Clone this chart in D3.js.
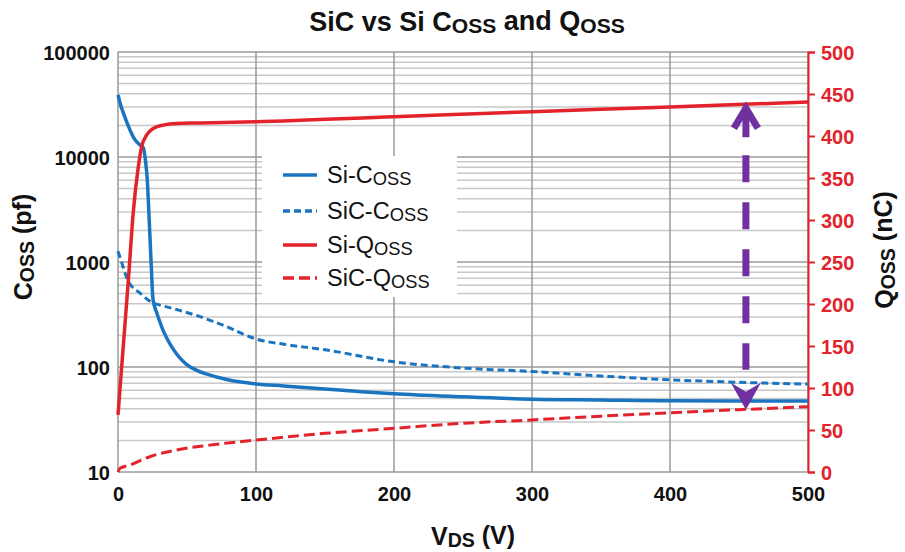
<!DOCTYPE html>
<meta charset="utf-8">
<style>
body { margin: 0; background: #fff; }
svg text { font-family: "Liberation Sans", Arial, sans-serif; }
.tick-l { font-size: 20px; font-weight: bold; fill: #111; }
.tick-r { font-size: 20px; font-weight: bold; fill: #e3232b; }
</style>
<svg id="chart" width="905" height="552"></svg>
<script src="https://cdn.jsdelivr.net/npm/d3@7"></script>
<script>

// values
var siCossV   = [0, 2, 4, 7.5, 12, 16, 18.3, 20, 21.2, 22.6, 24.3, 25.3, 28, 30.3, 32.5, 35.2, 40, 44.8, 49.6, 57, 65, 78.8, 100, 120, 140, 170, 200, 250, 300, 350, 400, 450, 500];
var siCoss    = [39000, 31000, 26000, 19700, 14800, 13000, 12300, 9000, 6100, 2540, 800, 450, 330, 270, 226, 190, 148, 122, 106, 93, 85, 76, 69, 66, 63, 59, 55.5, 52, 49.4, 48.5, 47.6, 47.5, 47.5];

var sicCossV  = [0, 2.7, 5, 7.5, 15.9, 25, 30, 40, 50, 60, 70, 80, 90, 100, 120, 150, 200, 250, 300, 350, 400, 450, 500];
var sicCoss   = [1265, 986, 792, 655, 507, 410, 390, 360, 330, 300, 268, 238, 208, 185, 165, 146, 112, 97.7, 90.6, 82, 75.5, 71.5, 68.7];

var siQossV   = [0, 7.5, 11, 14.7, 17.1, 20.7, 25.5, 32.7, 42.4, 60, 100, 200, 300, 400, 500];
var siQoss    = [68, 228, 308, 363, 387, 401, 409, 413, 415, 415.5, 417, 423, 429, 434.5, 440.5];

var sicQossV  = [0, 1.5, 8.7, 23, 42.4, 66.5, 100, 150, 200, 250, 300, 350, 400, 450, 500];
var sicQoss   = [0, 4.5, 8.3, 18.2, 26.2, 32, 38, 46, 52, 58, 62, 66.5, 70.6, 74.2, 77.8];

var xTicks      = [0, 100, 200, 300, 400, 500];
var cossTicks   = [10, 100, 1000, 10000, 100000];
var qossTicks   = [0, 50, 100, 150, 200, 250, 300, 350, 400, 450, 500];

// the purple arrow: from Si-Qoss down to SiC-Qoss at this voltage
var arrowV = 455;
var arrowQ = [439, 74];

var legendItems = [
  {pre: "Si-C",  sub: "OSS", color: "#1b74c0", dash: null},
  {pre: "SiC-C", sub: "OSS", color: "#1b74c0", dash: "7,4"},
  {pre: "Si-Q",  sub: "OSS", color: "#e3232b", dash: null},
  {pre: "SiC-Q", sub: "OSS", color: "#e3232b", dash: "11,5"}
];

var blue = "#1b74c0", red = "#e3232b", purple = "#7030a0";

var svg = d3.select("#chart");

var x = d3.scaleLinear().domain([0, 500]).range([118, 808]);
var yC = d3.scaleLog().domain([10, 100000]).range([472, 52]);
var yQ = d3.scaleLinear().domain([0, 500]).range([472, 52]);

// text with a smaller, slightly lowered "OSS" part
function subText(sel, parts) {
  parts.forEach(function(p) {
    var t = sel.append("tspan").text(p.t);
    if (p.sub) t.attr("font-size", "0.78em").attr("dy", "0.1em");
    else if (p.back) t.attr("dy", "-0.1em");
  });
}

// grid
var grid = svg.append("g");
var minor = yC.ticks().filter(function(v) { return cossTicks.indexOf(v) < 0; });
grid.selectAll(".minor").data(minor).enter().append("line")
  .attr("x1", x(0)).attr("x2", x(500))
  .attr("y1", function(d) { return yC(d); }).attr("y2", function(d) { return yC(d); })
  .attr("stroke", "#c8c8c8").attr("stroke-width", 1.5);
grid.selectAll(".major").data(cossTicks).enter().append("line")
  .attr("x1", x(0)).attr("x2", x(500))
  .attr("y1", function(d) { return yC(d); }).attr("y2", function(d) { return yC(d); })
  .attr("stroke", "#9a9a9a").attr("stroke-width", 1.5);
grid.selectAll(".vert").data(xTicks).enter().append("line")
  .attr("x1", function(d) { return x(d); }).attr("x2", function(d) { return x(d); })
  .attr("y1", yC(100000)).attr("y2", yC(10))
  .attr("stroke", "#9a9a9a").attr("stroke-width", 1.5);

// legend background hides the grid
svg.append("rect").attr("x", 262).attr("y", 156).attr("width", 195).attr("height", 141).attr("fill", "#fff");

// right axis
var rAxis = svg.append("g").attr("transform", "translate(" + x(500) + ",0)")
  .call(d3.axisRight(yQ).tickValues(qossTicks).tickSize(7).tickPadding(6));
rAxis.select(".domain").attr("stroke", red).attr("stroke-width", 2);
rAxis.selectAll(".tick line").attr("stroke", red).attr("stroke-width", 2);
rAxis.selectAll(".tick text").attr("class", "tick-r").attr("fill", null).attr("dy", "0.36em");

// left axis labels
var lAxis = svg.append("g").attr("transform", "translate(" + x(0) + ",0)")
  .call(d3.axisLeft(yC).tickValues(cossTicks).tickFormat(d3.format("d")).tickSize(0).tickPadding(8));
lAxis.select(".domain").remove();
lAxis.selectAll(".tick text").attr("class", "tick-l").attr("fill", null).attr("dy", "0.36em");

// bottom axis labels
var bAxis = svg.append("g").attr("transform", "translate(0," + yC(10) + ")")
  .call(d3.axisBottom(x).tickValues(xTicks).tickSize(0).tickPadding(15));
bAxis.select(".domain").remove();
bAxis.selectAll(".tick text").attr("class", "tick-l").attr("fill", null).attr("dy", "0.71em");

// series
function drawSeries(vs, ys, yScale, color, dash, width) {
  var line = d3.line()
    .x(function(d) { return x(d[0]); })
    .y(function(d) { return yScale(d[1]); })
    .curve(d3.curveMonotoneX);
  svg.append("path")
    .datum(d3.zip(vs, ys))
    .attr("d", line)
    .attr("fill", "none")
    .attr("stroke", color)
    .attr("stroke-width", width)
    .attr("stroke-dasharray", dash);
}
drawSeries(sicCossV, sicCoss, yC, blue, "7,4", 3);
drawSeries(siCossV, siCoss, yC, blue, null, 3.5);
drawSeries(sicQossV, sicQoss, yQ, red, "11,5", 3);
drawSeries(siQossV, siQoss, yQ, red, null, 3.5);

// arrow
var ax = x(arrowV), aTop = yQ(arrowQ[0]), aBot = yQ(arrowQ[1]);
svg.append("line")
  .attr("x1", ax).attr("x2", ax).attr("y1", aTop + 52).attr("y2", aBot - 40)
  .attr("stroke", purple).attr("stroke-width", 7).attr("stroke-dasharray", "27,20");
svg.append("line")
  .attr("x1", ax).attr("x2", ax).attr("y1", aTop + 4).attr("y2", aTop + 34)
  .attr("stroke", purple).attr("stroke-width", 7);
svg.append("path")
  .attr("d", "M" + (ax - 12) + "," + (aTop + 25) + "L" + ax + "," + (aTop + 5) + "L" + (ax + 12) + "," + (aTop + 25))
  .attr("fill", "none").attr("stroke", purple).attr("stroke-width", 7);
svg.append("path")
  .attr("d", "M" + (ax - 15) + "," + (aBot - 27) + "L" + ax + "," + aBot + "L" + (ax + 15) + "," + (aBot - 27)
    + "L" + ax + "," + (aBot - 18) + "Z")
  .attr("fill", purple);

// legend
var leg = svg.append("g");
legendItems.forEach(function(d, i) {
  var yy = [175, 211, 245, 278][i];
  leg.append("line").attr("x1", 283).attr("x2", 317).attr("y1", yy).attr("y2", yy)
    .attr("stroke", d.color).attr("stroke-width", 3.5).attr("stroke-dasharray", d.dash);
  var t = leg.append("text").attr("x", 327).attr("y", yy + 8).attr("font-size", 23.5).attr("fill", "#111");
  subText(t, [{t: d.pre}, {t: d.sub, sub: true}]);
});

// titles
var title = svg.append("text").attr("x", 467).attr("y", 31).attr("text-anchor", "middle")
  .attr("font-size", 27).attr("font-weight", "bold").attr("fill", "#111");
subText(title, [{t: "SiC vs Si C"}, {t: "OSS", sub: true}, {t: " and Q", back: true}, {t: "OSS", sub: true}]);

var xt = svg.append("text").attr("x", 473).attr("y", 545).attr("text-anchor", "middle")
  .attr("font-size", 25).attr("font-weight", "bold").attr("fill", "#111");
subText(xt, [{t: "V"}, {t: "DS", sub: true}, {t: " (V)", back: true}]);

var ylt = svg.append("text").attr("transform", "translate(32,247) rotate(-90)").attr("text-anchor", "middle")
  .attr("font-size", 25).attr("font-weight", "bold").attr("fill", "#111");
subText(ylt, [{t: "C"}, {t: "OSS", sub: true}, {t: " (pf)", back: true}]);

var yrt = svg.append("text").attr("transform", "translate(893,250) rotate(-90)").attr("text-anchor", "middle")
  .attr("font-size", 25).attr("font-weight", "bold").attr("fill", "#111");
subText(yrt, [{t: "Q"}, {t: "OSS", sub: true}, {t: " (nC)", back: true}]);

</script>
